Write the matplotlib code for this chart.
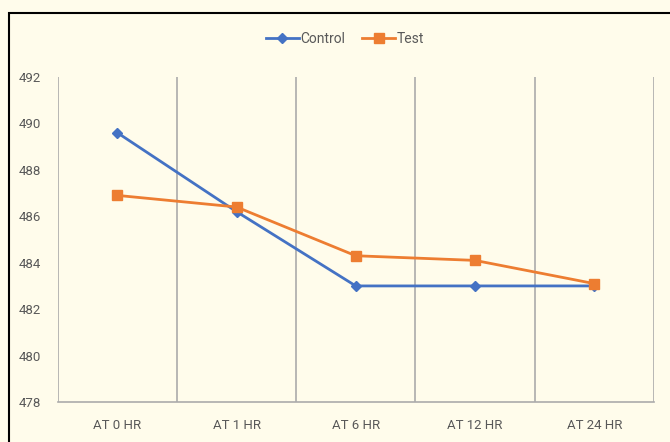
import matplotlib
matplotlib.use("Agg")
import matplotlib.pyplot as plt
from matplotlib.patches import Rectangle

plt.rcParams["font.family"] = ["Liberation Sans Narrow", "Roboto", "DejaVu Sans"]

categories = ["AT 0 HR", "AT 1 HR", "AT 6 HR", "AT 12 HR", "AT 24 HR"]
control = [489.6, 486.2, 483.0, 483.0, 483.0]
test = [486.9, 486.4, 484.3, 484.1, 483.1]
y_ticks = [478, 480, 482, 484, 486, 488, 490, 492]

BG = "#FFFCEB"
TXT = "#595959"
GRID = "#ABABAB"

W, H = 670, 442
fig = plt.figure(figsize=(W / 100, H / 100), dpi=100)
fig.patch.set_facecolor(BG)

# chart frame with a black edge running off the right and bottom
fig.patches.append(Rectangle((8.5 / W, -0.05), 1.1, 1 - 12.5 / H + 0.05,
                             transform=fig.transFigure, facecolor=BG, edgecolor="black",
                             linewidth=1.5, zorder=-2))

ax = fig.add_axes([57.7 / W, 1 - 402 / H, (653.8 - 57.7) / W, (402 - 77) / H])
ax.set_facecolor("none")

x = list(range(len(categories)))
ax.plot(x, control, color="#4472C4", linewidth=2.0, marker="D", markersize=5.5,
        label="Control", zorder=3)
ax.plot(x, test, color="#ED7D31", linewidth=2.0, marker="s", markersize=7.5,
        label="Test", zorder=4)

ax.set_xlim(-0.5, len(categories) - 0.5)
ax.set_ylim(478, 492)
ax.set_yticks(y_ticks)
ax.set_yticklabels([str(v) for v in y_ticks])
ax.set_xticks(x)
ax.set_xticklabels(categories)

# vertical separators between categories
for b in range(len(categories) + 1):
    ax.axvline(b - 0.5, color=GRID, linewidth=1.2, zorder=1)

for s in ["top", "right", "left"]:
    ax.spines[s].set_visible(False)
ax.spines["bottom"].set_color(GRID)
ax.spines["bottom"].set_linewidth(1.2)

ax.tick_params(axis="both", length=0, colors=TXT, labelsize=9.5)
ax.tick_params(axis="x", pad=12)
ax.tick_params(axis="y", pad=12)

leg = fig.legend(loc="center", bbox_to_anchor=(345 / W, 1 - 39 / H), ncol=2, frameon=False,
                 fontsize=10, handlelength=2.4, handletextpad=0.1, columnspacing=1.2)
for t in leg.get_texts():
    t.set_color(TXT)

fig.savefig("out.png", dpi=100, facecolor=fig.get_facecolor())
